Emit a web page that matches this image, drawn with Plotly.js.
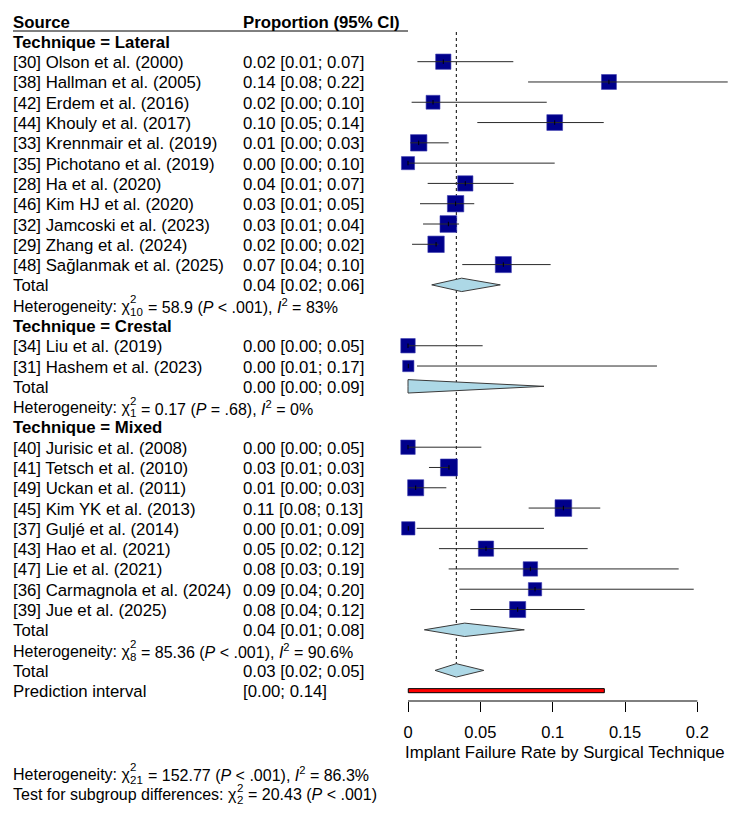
<!DOCTYPE html>
<html>
<head>
<meta charset="utf-8">
<script src="https://cdn.plot.ly/plotly-3.0.1.min.js"></script>
<style>
  html, body { margin: 0; padding: 0; background: #fff; }
  #chart { width: 750px; height: 820px; }
</style>
</head>
<body>
<div id="chart"></div>
<script>
// ---- Study data: proportion of implant failures with 95% CI, and study weight (%) ----
const lateralNames = ['[30] Olson et al. (2000)', '[38] Hallman et al. (2005)', '[42] Erdem et al. (2016)',
  '[44] Khouly et al. (2017)', '[33] Krennmair et al. (2019)', '[35] Pichotano et al. (2019)',
  '[28] Ha et al. (2020)', '[46] Kim HJ et al. (2020)', '[32] Jamcoski et al. (2023)',
  '[29] Zhang et al. (2024)', '[48] Sağlanmak et al. (2025)'];
const lateralEst   = [0.0244, 0.1389, 0.0173, 0.1014, 0.0074, 0.0000, 0.0396, 0.0329, 0.0279, 0.0194, 0.0659];
const lateralLower = [0.0065, 0.0830, 0.0025, 0.0479, 0.0016, 0.0000, 0.0136, 0.0083, 0.0104, 0.0028, 0.0375];
const lateralUpper = [0.0728, 0.2210, 0.0959, 0.1353, 0.0281, 0.1014, 0.0730, 0.0458, 0.0353, 0.0210, 0.0986];
const lateralWeights = [4.6, 4.4, 3.8, 4.9, 5.3, 3.4, 4.6, 5.3, 5.5, 5.3, 5.1];

const crestalNames = ['[34] Liu et al. (2019)', '[31] Hashem et al. (2023)'];
const crestalEst   = [0.0000, 0.0002];
const crestalLower = [0.0000, 0.0062];
const crestalUpper = [0.0516, 0.1721];
const crestalWeights = [4.1, 2.5];

const mixedNames = ['[40] Jurisic et al. (2008)', '[41] Tetsch et al. (2010)', '[49] Uckan et al. (2011)',
  '[45] Kim YK et al. (2013)', '[37] Guljé et al. (2014)', '[43] Hao et al. (2021)',
  '[47] Lie et al. (2021)', '[36] Carmagnola et al. (2024)', '[39] Jue et al. (2025)'];
const mixedEst   = [0.0000, 0.0283, 0.0053, 0.1074, 0.0002, 0.0539, 0.0846, 0.0878, 0.0758];
const mixedLower = [0.0000, 0.0145, 0.0002, 0.0834, 0.0060, 0.0214, 0.0281, 0.0355, 0.0431];
const mixedUpper = [0.0507, 0.0287, 0.0265, 0.1329, 0.0940, 0.1242, 0.1871, 0.1975, 0.1221];
const mixedWeights = [4.1, 5.7, 5.1, 5.5, 3.5, 4.6, 4.1, 3.5, 5.1];

// ---- Subgroup pooled estimates and heterogeneity ----
const subgroupTitles = ['Technique = Lateral', 'Technique = Crestal', 'Technique = Mixed'];
const subgroupEst   = [0.0371, 0.0000, 0.0392];
const subgroupLower = [0.0164, 0.0000, 0.0113];
const subgroupUpper = [0.0638, 0.0940, 0.0804];
const hetChi = ['58.9', '0.17', '85.36'];
const hetDf  = [10, 1, 8];
const hetP   = ['&lt; .001', '= .68', '&lt; .001'];
const hetI2  = ['83%', '0%', '90.6%'];

// ---- Overall random-effects estimate and prediction interval ----
const overallEst = 0.0334, overallLower = 0.0187, overallUpper = 0.0524;
const predLower = 0.0002, predUpper = 0.1357;
const overallChi = '152.77', overallDf = 21, overallP = '&lt; .001', overallI2 = '86.3%';
const diffChi = '20.43', diffDf = 2, diffP = '&lt; .001';

// ---- Axis ----
const xTickVals = [0, 0.05, 0.1, 0.15, 0.2];
const xTickText = ['0', '0.05', '0.1', '0.15', '0.2'];
const xTitle = 'Implant Failure Rate by Surgical Technique';

// ---- Geometry of the page ----
const W = 750, H = 820;
const ROW0 = 21.1, ROWH = 20.29;          // pixel centre of row 0 and row pitch
const X0PX = 408, PXPER = 1446.7;         // pixel of x = 0 and pixels per unit
const AXIS_PX = 701;                      // pixel row of the x axis line
const FONT = 'Liberation Sans, Arial, sans-serif';
const FS = 16.8;        // study labels, headings
const FS_STAT = 16;     // heterogeneity lines
const FS_SCRIPT = 11.5; // chi-square super/subscripts
const COL_NAME = 13, COL_EST = 243;

const ctx = document.createElement('canvas').getContext('2d');
function textW(s, size) {
  ctx.font = size + 'px "Liberation Sans", Arial, sans-serif';
  return ctx.measureText(s).width;
}
const fmt = v => v.toFixed(2);
const ciLabel = (e, l, h) => `${fmt(e)} [${fmt(l)}; ${fmt(h)}]`;

const annotations = [];
function txt(px, k, text, size = FS, extra = {}) {
  const a = {
    xref: 'paper', x: px / W, yref: 'y', y: k, yshift: -1,
    xanchor: 'left', yanchor: 'middle', showarrow: false,
    borderpad: 0, borderwidth: 0,
    text: text, font: { family: FONT, size: size, color: '#000' }
  };
  Object.assign(a, extra);
  annotations.push(a);
}
// statistics line with a stacked chi-square super/subscript
function statLine(k, prefix, df, rest) {
  txt(COL_NAME, k, prefix, FS_STAT);
  const xs = COL_NAME + textW(prefix, FS_STAT) + 0.5;
  txt(xs, k, '2', FS_SCRIPT, { yshift: 6 });
  txt(xs, k, String(df), FS_SCRIPT, { yshift: -6.5 });
  const wScript = Math.max(textW('2', FS_SCRIPT), textW(String(df), FS_SCRIPT));
  txt(xs + wScript + textW(' ', FS_STAT), k, rest, FS_STAT);
}

const groups = [
  { names: lateralNames, est: lateralEst, lo: lateralLower, hi: lateralUpper, w: lateralWeights },
  { names: crestalNames, est: crestalEst, lo: crestalLower, hi: crestalUpper, w: crestalWeights },
  { names: mixedNames, est: mixedEst, lo: mixedLower, hi: mixedUpper, w: mixedWeights }
];

// collected mark data
const ciX = [], ciY = [], tickX = [], tickY = [];
const sqX = [], sqY = [], sqSize = [];
const diamonds = [];
const DH = 0.33;     // diamond half height in rows

// header
txt(COL_NAME, 0, '<b>Source</b>');
txt(COL_EST, 0, '<b>Proportion (95% CI)</b>');

let k = 1;
groups.forEach((g, i) => {
  txt(COL_NAME, k, '<b>' + subgroupTitles[i] + '</b>');
  k++;
  g.names.forEach((name, j) => {
    txt(COL_NAME, k, name);
    txt(COL_EST, k, ciLabel(g.est[j], g.lo[j], g.hi[j]));
    ciX.push(g.lo[j], g.hi[j], null); ciY.push(k, k, null);
    tickX.push(g.est[j], g.est[j], null); tickY.push(k - 0.11, k + 0.11, null);
    sqX.push(g.est[j]); sqY.push(k); sqSize.push(7.12 * Math.sqrt(g.w[j]));
    k++;
  });
  txt(COL_NAME, k, 'Total');
  txt(COL_EST, k, ciLabel(subgroupEst[i], subgroupLower[i], subgroupUpper[i]));
  diamonds.push({ k: k, e: subgroupEst[i], l: subgroupLower[i], h: subgroupUpper[i] });
  k++;
  statLine(k, 'Heterogeneity: χ', hetDf[i],
    `= ${hetChi[i]} (<i>P</i> ${hetP[i]}), <i>I</i><sup>2</sup> = ${hetI2[i]}`);
  k++;
});
const overallRow = k;
txt(COL_NAME, k, 'Total');
txt(COL_EST, k, ciLabel(overallEst, overallLower, overallUpper));
diamonds.push({ k: k, e: overallEst, l: overallLower, h: overallUpper });
k++;
const predRow = k;
txt(COL_NAME, k, 'Prediction interval');
txt(COL_EST, k, `[${fmt(predLower)}; ${fmt(predUpper)}]`);

// x-axis title and bottom statistics
const rowOfPx = px => (px - ROW0) / ROWH;
txt(405, rowOfPx(751), xTitle);
statLine(rowOfPx(773), 'Heterogeneity: χ', overallDf,
  `= ${overallChi} (<i>P</i> ${overallP}), <i>I</i><sup>2</sup> = ${overallI2}`);
statLine(rowOfPx(793.5), 'Test for subgroup differences: χ', diffDf,
  `= ${diffChi} (<i>P</i> ${diffP})`);

// ---- traces ----
const traces = [];
// reference line at the overall estimate
traces.push({
  x: [overallEst, overallEst], y: [rowOfPx(32), overallRow], mode: 'lines',
  line: { color: '#000', width: 1, dash: 'dot' }, hoverinfo: 'skip'
});
// study squares
traces.push({
  x: sqX, y: sqY, mode: 'markers',
  marker: { symbol: 'square', size: sqSize, color: '#00008B', opacity: 1,
            line: { width: 0.6, color: '#3a3ab0' } },
  hoverinfo: 'skip'
});
// confidence intervals
traces.push({
  x: ciX, y: ciY, mode: 'lines', line: { color: '#2a2a2a', width: 1 }, hoverinfo: 'skip'
});
traces.push({
  x: tickX, y: tickY, mode: 'lines', line: { color: '#000', width: 1 }, hoverinfo: 'skip'
});
// pooled diamonds
diamonds.forEach(d => {
  traces.push({
    x: [d.l, d.e, d.h, d.e, d.l], y: [d.k, d.k - DH, d.k, d.k + DH, d.k],
    mode: 'lines', fill: 'toself', fillcolor: '#ADD8E6',
    line: { color: '#3a3a3a', width: 1 }, hoverinfo: 'skip'
  });
});
// prediction interval bar
traces.push({
  x: [predLower, predUpper, predUpper, predLower, predLower],
  y: [predRow - 0.1, predRow - 0.1, predRow + 0.1, predRow + 0.1, predRow - 0.1],
  mode: 'lines', fill: 'toself', fillcolor: '#FF0000',
  line: { color: '#000', width: 1 }, hoverinfo: 'skip'
});

const axisPos = 1 - AXIS_PX / H;
const layout = {
  width: W, height: H,
  margin: { l: 0, r: 0, t: 0, b: 0 },
  paper_bgcolor: '#fff', plot_bgcolor: '#fff',
  showlegend: false,
  xaxis: {
    range: [-X0PX / PXPER, (W - X0PX) / PXPER],
    showgrid: false, zeroline: false, showline: false,
    tickmode: 'array', tickvals: xTickVals, ticktext: xTickText,
    ticks: 'outside', ticklen: 10, tickwidth: 1, tickcolor: '#000',
    ticklabelstandoff: 6,
    tickfont: { family: FONT, size: 16.5, color: '#000' },
    anchor: 'free', position: axisPos, fixedrange: true
  },
  yaxis: {
    range: [(H - ROW0) / ROWH, -ROW0 / ROWH],
    visible: false, showgrid: false, zeroline: false, fixedrange: true
  },
  shapes: [
    // header underline
    { type: 'line', xref: 'paper', x0: COL_NAME / W, x1: X0PX / W, yref: 'y', y0: rowOfPx(31), y1: rowOfPx(31),
      line: { color: '#000', width: 1 } },
    // x axis line spanning the tick range
    { type: 'line', xref: 'x', x0: xTickVals[0], x1: xTickVals[xTickVals.length - 1],
      yref: 'paper', y0: axisPos, y1: axisPos, line: { color: '#000', width: 1 } }
  ],
  annotations: annotations
};

Plotly.newPlot('chart', traces, layout, { displayModeBar: false, staticPlot: true });
</script>
</body>
</html>
